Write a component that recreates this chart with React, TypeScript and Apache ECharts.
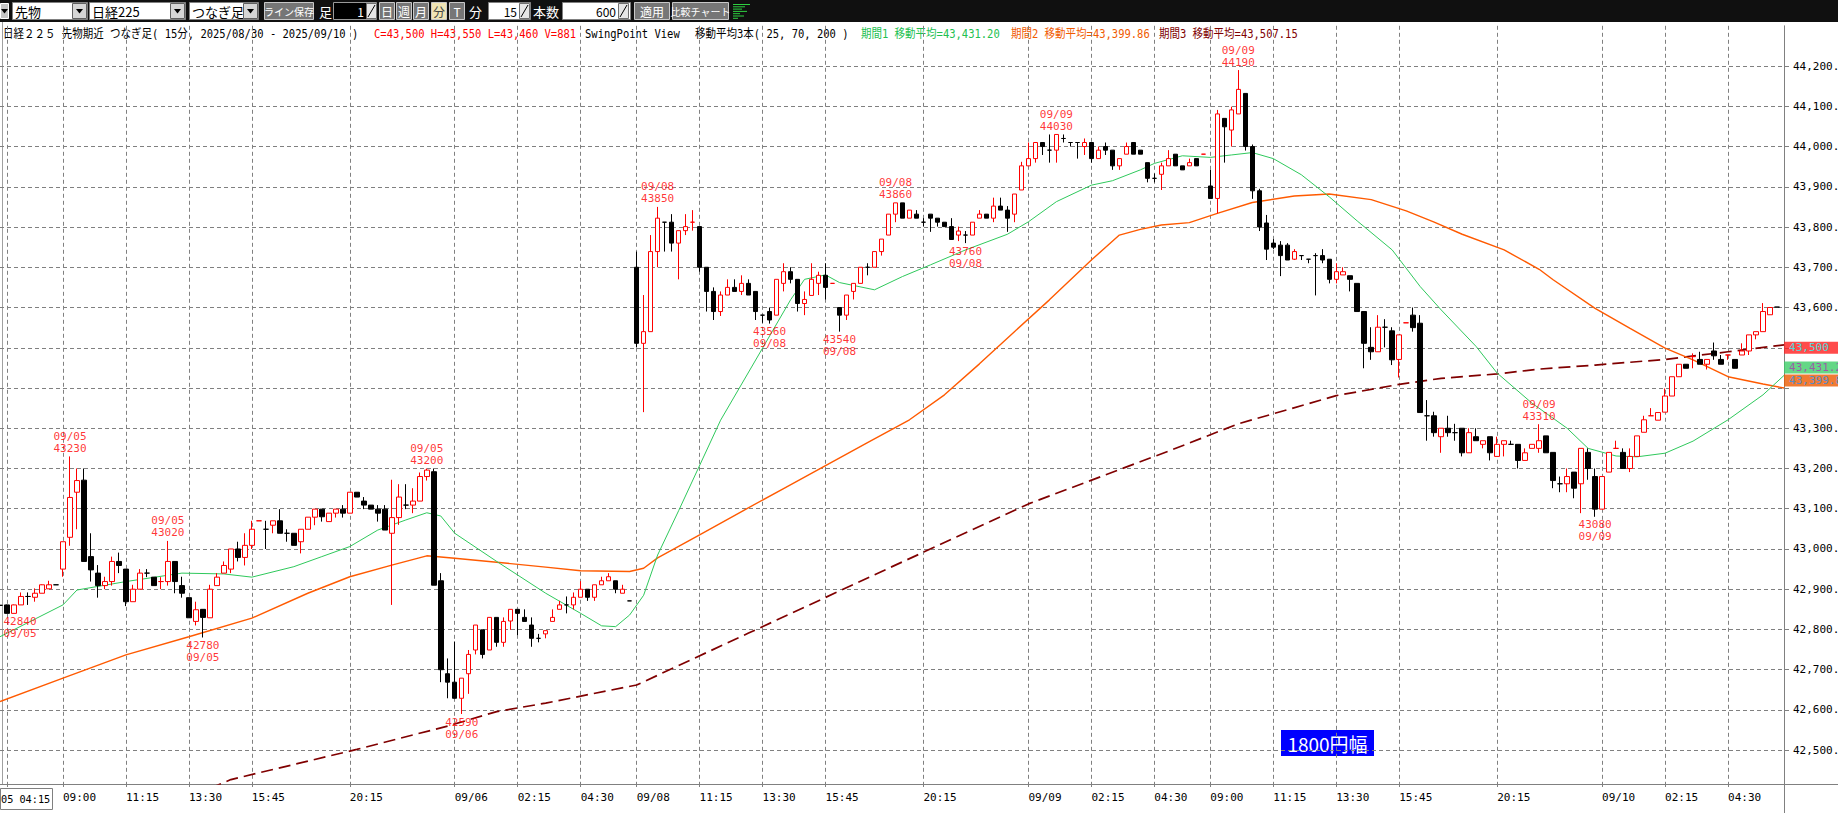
import { useEffect, useRef } from "react";
import * as echarts from "echarts";

const MONO = "'DejaVu Sans Mono', 'Noto Sans CJK JP', monospace";
const JP = "'Noto Sans CJK JP', sans-serif";
const RED = "#ff0000";
const BLACK = "#000000";
const GRID = "#808080";
const MA25_COLOR = "#2fc95c";
const MA70_COLOR = "#ff5a00";
const MA200_COLOR = "#800000";

// trading sessions: [date, first bar, last bar] in 15 minute steps
const sessions: [string, string, string][] = [
  ["09/05", "04:15", "06:00"],
  ["09/05", "08:45", "15:45"],
  ["09/05", "17:00", "23:45"],
  ["09/06", "00:00", "06:00"],
  ["09/08", "08:45", "15:45"],
  ["09/08", "17:00", "23:45"],
  ["09/09", "00:00", "06:00"],
  ["09/09", "08:45", "15:45"],
  ["09/09", "17:00", "23:45"],
  ["09/10", "00:00", "06:00"],
  ["09/10", "08:45", "09:00"],
];

// candles: [open, high, low, close, redDoji?]
const sep05Morning = [
  [42860, 42862, 42858, 42860], [42861, 42862, 42840, 42840], [42840, 42862, 42840, 42861], [42861, 42892, 42861, 42882],
  [42882, 42892, 42861, 42882], [42880, 42902, 42869, 42890], [42890, 42912, 42890, 42911], [42901, 42921, 42901, 42911],
];
const sep05Day = [
  [42911, 42911, 42911, 42911], [42950, 43018, 42931, 43018], [43029, 43230, 43008, 43128], [43141, 43200, 43049, 43170],
  [43171, 43200, 42969, 42969], [42981, 43039, 42919, 42948], [42940, 42960, 42879, 42909], [42909, 42931, 42900, 42919],
  [42919, 42981, 42909, 42969], [42969, 42991, 42940, 42959], [42950, 42950, 42858, 42869], [42869, 42911, 42869, 42900],
  [42900, 42950, 42900, 42940], [42940, 42950, 42930, 42940], [42930, 42930, 42909, 42909], [42919, 42930, 42900, 42919, 1],
  [42919, 43020, 42909, 42969], [42969, 42969, 42890, 42919], [42909, 42931, 42879, 42890], [42879, 42879, 42829, 42829],
  [42820, 42869, 42810, 42849], [42850, 42850, 42780, 42830], [42829, 42911, 42829, 42900], [42909, 42940, 42909, 42930],
  [42940, 42969, 42940, 42959], [42950, 43000, 42940, 43000], [43000, 43018, 42969, 42979], [42979, 43039, 42959, 43009],
  [43009, 43070, 43000, 43049],
];
const sep05Night = [
  [43070, 43070, 43070, 43070, 1], [43049, 43070, 43000, 43049], [43059, 43070, 43039, 43070], [43070, 43099, 43039, 43039],
  [43039, 43049, 43018, 43039], [43039, 43039, 43009, 43009], [43018, 43049, 42989, 43049], [43049, 43079, 43049, 43079],
  [43079, 43099, 43059, 43099], [43099, 43099, 43068, 43080], [43068, 43089, 43068, 43089], [43089, 43099, 43078, 43099],
  [43099, 43109, 43078, 43089], [43089, 43141, 43089, 43141], [43141, 43141, 43129, 43129], [43119, 43129, 43099, 43109],
  [43109, 43109, 43099, 43099], [43099, 43109, 43068, 43089], [43099, 43109, 43047, 43047], [43039, 43172, 42861, 43078],
  [43078, 43161, 43060, 43129], [43109, 43161, 43099, 43109], [43109, 43151, 43089, 43119], [43119, 43190, 43119, 43180],
  [43180, 43200, 43170, 43196], [43192, 43200, 42910, 42910], [42921, 42940, 42669, 42700], [42690, 42728, 42629, 42669],
  [42669, 42770, 42629, 42629], [42629, 42679, 42590, 42679], [42690, 42749, 42640, 42738], [42749, 42811, 42738, 42811],
  [42799, 42799, 42728, 42738], [42749, 42830, 42749, 42830], [42830, 42830, 42757, 42768], [42768, 42830, 42757, 42820],
  [42821, 42850, 42799, 42850], [42850, 42850, 42786, 42840], [42830, 42850, 42820, 42820], [42811, 42830, 42757, 42778],
  [42778, 42789, 42768, 42778], [42789, 42797, 42778, 42797], [42820, 42850, 42820, 42830], [42850, 42871, 42850, 42861],
  [42861, 42882, 42840, 42861], [42861, 42892, 42850, 42880], [42880, 42920, 42880, 42900], [42900, 42900, 42871, 42880],
  [42880, 42911, 42871, 42911], [42911, 42931, 42911, 42921], [42921, 42940, 42921, 42931], [42921, 42921, 42890, 42900],
  [42890, 42911, 42890, 42900],
];
const sep08Day = [
  [42871, 42871, 42871, 42871], [43700, 43739, 43501, 43511], [43511, 43631, 43340, 43540], [43540, 43780, 43540, 43739],
  [43739, 43850, 43700, 43822], [43812, 43812, 43739, 43812], [43812, 43832, 43739, 43760], [43760, 43791, 43670, 43791],
  [43791, 43832, 43780, 43801], [43812, 43842, 43791, 43812, 1], [43801, 43801, 43689, 43700], [43700, 43700, 43590, 43640],
  [43640, 43650, 43569, 43590], [43590, 43640, 43579, 43631], [43631, 43670, 43631, 43650], [43650, 43670, 43640, 43640],
  [43640, 43680, 43631, 43660], [43660, 43670, 43631, 43631], [43640, 43640, 43569, 43590], [43581, 43581, 43562, 43581],
  [43590, 43600, 43560, 43569], [43581, 43670, 43581, 43670], [43660, 43710, 43640, 43689], [43689, 43700, 43660, 43670],
  [43670, 43670, 43590, 43610], [43610, 43640, 43581, 43620], [43630, 43710, 43630, 43670], [43660, 43689, 43631, 43680],
  [43680, 43710, 43620, 43650],
];
const sep08Night = [
  [43660, 43660, 43660, 43660, 1], [43600, 43600, 43540, 43581], [43581, 43631, 43569, 43631], [43640, 43660, 43620, 43660],
  [43660, 43700, 43660, 43700], [43700, 43710, 43680, 43700], [43700, 43739, 43700, 43739], [43739, 43770, 43729, 43770],
  [43780, 43832, 43780, 43832], [43832, 43860, 43812, 43860], [43860, 43860, 43822, 43822], [43822, 43842, 43822, 43842],
  [43832, 43842, 43822, 43822], [43812, 43822, 43801, 43812], [43832, 43832, 43788, 43822], [43822, 43822, 43801, 43812],
  [43812, 43812, 43801, 43801], [43801, 43822, 43769, 43769], [43780, 43801, 43765, 43790], [43780, 43790, 43760, 43780],
  [43780, 43812, 43780, 43812], [43822, 43842, 43822, 43832], [43832, 43832, 43822, 43822], [43822, 43873, 43812, 43852],
  [43852, 43873, 43842, 43842], [43842, 43852, 43788, 43822], [43832, 43882, 43812, 43882], [43892, 43962, 43892, 43952],
  [43952, 44010, 43952, 43970], [43970, 44010, 43960, 44010], [44010, 44010, 43979, 44000], [43991, 44030, 43960, 43991],
  [43991, 44030, 43960, 44030], [44020, 44030, 44010, 44020], [44010, 44010, 44000, 44010], [44010, 44010, 43970, 44010],
  [44000, 44020, 43979, 44010], [44010, 44010, 43960, 43970], [43970, 44000, 43970, 43991], [44000, 44010, 43979, 43991],
  [43991, 43991, 43942, 43952], [43952, 43970, 43942, 43970], [43981, 44010, 43981, 44000], [44010, 44010, 43981, 43981],
  [43991, 43991, 43981, 43981], [43960, 43960, 43911, 43921], [43921, 43933, 43911, 43921], [43931, 43960, 43892, 43952],
  [43952, 43991, 43952, 43970], [43981, 43981, 43952, 43952], [43952, 43952, 43942, 43942], [43952, 43970, 43952, 43960],
  [43970, 43970, 43952, 43952],
];
const sep09Day = [
  [43981, 43981, 43981, 43981, 1], [43902, 43942, 43871, 43871], [43871, 44091, 43834, 44081], [44070, 44070, 43960, 44049],
  [44041, 44099, 44000, 44091], [44081, 44190, 44081, 44142], [44132, 44132, 43990, 44000], [44000, 44005, 43870, 43890],
  [43890, 43895, 43790, 43800], [43810, 43830, 43718, 43745], [43760, 43770, 43745, 43750], [43755, 43765, 43678, 43729],
  [43755, 43760, 43718, 43718], [43720, 43745, 43718, 43739], [43729, 43729, 43718, 43729], [43720, 43720, 43710, 43720],
  [43729, 43735, 43630, 43729], [43729, 43745, 43710, 43718], [43720, 43720, 43660, 43670], [43670, 43710, 43660, 43689],
  [43681, 43700, 43681, 43689], [43679, 43679, 43640, 43670], [43660, 43660, 43590, 43590], [43590, 43590, 43449, 43511],
  [43501, 43551, 43470, 43490], [43490, 43581, 43490, 43551], [43551, 43571, 43501, 43551], [43542, 43551, 43457, 43470],
  [43471, 43532, 43426, 43532],
];
const sep09Night = [
  [43562, 43562, 43562, 43562, 1], [43581, 43600, 43540, 43550], [43561, 43581, 43339, 43339], [43331, 43370, 43269, 43331],
  [43331, 43341, 43279, 43289], [43279, 43300, 43239, 43300], [43300, 43331, 43279, 43289], [43289, 43311, 43269, 43289],
  [43300, 43300, 43230, 43239], [43239, 43300, 43239, 43289], [43279, 43300, 43269, 43269], [43260, 43269, 43250, 43269],
  [43279, 43279, 43220, 43239], [43230, 43279, 43230, 43260], [43260, 43269, 43230, 43269], [43260, 43269, 43260, 43260],
  [43260, 43260, 43200, 43220], [43220, 43250, 43220, 43239], [43250, 43260, 43250, 43260], [43250, 43310, 43239, 43269],
  [43281, 43281, 43239, 43239], [43240, 43240, 43151, 43170], [43162, 43180, 43141, 43162], [43162, 43200, 43141, 43180],
  [43191, 43191, 43126, 43151], [43162, 43250, 43089, 43250], [43240, 43250, 43172, 43200], [43180, 43200, 43080, 43099],
  [43099, 43180, 43099, 43180], [43191, 43240, 43191, 43240], [43250, 43269, 43250, 43250, 1], [43240, 43250, 43200, 43200],
  [43200, 43250, 43191, 43230], [43230, 43281, 43230, 43281], [43290, 43331, 43290, 43321], [43331, 43350, 43331, 43331, 1],
  [43320, 43339, 43320, 43339], [43340, 43399, 43340, 43380], [43380, 43428, 43380, 43428], [43428, 43459, 43428, 43459],
  [43459, 43459, 43449, 43449], [43478, 43486, 43449, 43478, 1], [43471, 43490, 43459, 43459], [43459, 43471, 43446, 43471],
  [43492, 43513, 43470, 43480], [43471, 43482, 43459, 43459], [43482, 43482, 43470, 43482, 1], [43471, 43471, 43449, 43449],
  [43482, 43511, 43482, 43492], [43492, 43532, 43482, 43532], [43532, 43540, 43521, 43540], [43540, 43611, 43540, 43590],
  [43582, 43600, 43582, 43600],
];
const sep10Day = [[43601, 43601, 43601, 43601]];

// moving averages: [bar number, value]
const ma25Points = [
  [0, 42782], [9, 42861], [11, 42898], [18, 42919], [26, 42940], [32, 42938], [36, 42930], [42, 42956], [46, 42981],
  [50, 43006], [54, 43047], [58, 43072], [61, 43090], [63, 43082], [65, 43039], [71, 42969], [78, 42890], [83, 42840],
  [86, 42809], [88, 42807], [90, 42836], [92, 42885], [94, 42985], [97, 43095], [103, 43320], [109, 43499], [113, 43619],
  [115, 43670], [118, 43681], [120, 43662], [125, 43644], [129, 43677], [133, 43706], [138, 43743], [144, 43782],
  [147, 43813], [151, 43863], [156, 43904], [159, 43915], [163, 43942], [165, 43958], [169, 43977], [173, 43973],
  [176, 43979], [179, 43985], [182, 43970], [186, 43930], [190, 43875], [194, 43815], [199, 43743], [203, 43652],
  [206, 43594], [211, 43503], [214, 43437], [219, 43362], [224, 43300], [227, 43250], [231, 43231], [234, 43229],
  [238, 43238], [242, 43268], [247, 43321], [252, 43383], [255, 43431.2],
];
const ma70Points = [
  [0, 42621], [9, 42679], [18, 42737], [27, 42782], [36, 42828], [44, 42890], [50, 42931], [56, 42960], [61, 42983],
  [65, 42977], [71, 42967], [78, 42955], [83, 42946], [90, 42944], [92, 42952], [94, 42978], [100, 43035], [106, 43093],
  [112, 43150], [118, 43207], [124, 43264], [130, 43321], [135, 43383], [140, 43460], [145, 43540], [150, 43619],
  [156, 43718], [160, 43780], [163, 43794], [166, 43805], [170, 43811], [174, 43834], [179, 43861], [185, 43877],
  [190, 43882], [196, 43868], [201, 43840], [205, 43812], [209, 43782], [215, 43743], [220, 43695], [222, 43669],
  [228, 43598], [233, 43548], [238, 43499], [242, 43470], [247, 43428], [252, 43410], [255, 43399.86],
];
const ma200Points = [
  [30, 42405], [33, 42427], [51, 42502], [64, 42560], [71, 42596], [78, 42617], [91, 42662], [107, 42791], [127, 42952],
  [147, 43112], [167, 43243], [177, 43311], [183, 43341], [191, 43381], [200, 43409], [206, 43424], [214, 43435],
  [220, 43447], [228, 43457], [238, 43471], [247, 43490], [255, 43507.15],
];

// swing points: [bar number, price, date]
const swingHighs: [number, number, string][] = [
  [10, 43230, "09/05"], [24, 43020, "09/05"], [61, 43200, "09/05"], [94, 43850, "09/08"],
  [128, 43860, "09/08"], [151, 44030, "09/09"], [177, 44190, "09/09"], [220, 43310, "09/09"],
];
const swingLows: [number, number, string][] = [
  [2, 42840, "09/05"], [29, 42780, "09/05"], [66, 42590, "09/06"], [110, 43560, "09/08"],
  [120, 43540, "09/08"], [138, 43760, "09/08"], [228, 43080, "09/09"],
];

// x-axis tick labels (category -> text), empty text = grid line only
const xTickLabels: [string, string][] = [
  ["09/05 04:30", ""], ["09/05 09:00", "09:00"], ["09/05 11:15", "11:15"], ["09/05 13:30", "13:30"], ["09/05 15:45", "15:45"],
  ["09/05 20:15", "20:15"], ["09/06 00:00", "09/06"], ["09/06 02:15", "02:15"], ["09/06 04:30", "04:30"],
  ["09/08 09:00", "09/08"], ["09/08 11:15", "11:15"], ["09/08 13:30", "13:30"], ["09/08 15:45", "15:45"],
  ["09/08 20:15", "20:15"], ["09/09 00:00", "09/09"], ["09/09 02:15", "02:15"], ["09/09 04:30", "04:30"],
  ["09/09 09:00", "09:00"], ["09/09 11:15", "11:15"], ["09/09 13:30", "13:30"], ["09/09 15:45", "15:45"],
  ["09/09 20:15", "20:15"], ["09/10 00:00", "09/10"], ["09/10 02:15", "02:15"], ["09/10 04:30", "04:30"],
];
const firstBarLabel = "05 04:15";

const lastClose = 43500;
const lastHigh = 43550;
const lastLow = 43460;
const lastVolume = 881;
const ma25Last = 43431.2;
const ma70Last = 43399.86;
const ma200Last = 43507.15;
const yMin = 42416;
const yMax = 44300;

function buildCategories(): string[] {
  const out: string[] = [];
  const toMin = (t: string) => Number(t.slice(0, 2)) * 60 + Number(t.slice(3));
  for (const [d, s, e] of sessions) {
    for (let m = toMin(s); m <= toMin(e); m += 15) {
      const hh = String(Math.floor(m / 60)).padStart(2, "0");
      const mm = String(m % 60).padStart(2, "0");
      out.push(`${d} ${hh}:${mm}`);
    }
  }
  return out;
}

const fmtN = (v: number, d: number) =>
  v.toLocaleString("en-US", { minimumFractionDigits: d, maximumFractionDigits: d });

function toolbar(): any[] {
  const els: any[] = [];
  const box = (x: number, y: number, w: number, h: number, fill: string, stroke?: string) => ({
    type: "rect", shape: { x, y, width: w, height: h }, style: { fill, stroke: stroke || null, lineWidth: 1 },
  });
  const tri = (cx: number, cy: number) => ({
    type: "polygon", shape: { points: [[cx - 3.5, cy - 2], [cx + 3.5, cy - 2], [cx, cy + 2.5]] }, style: { fill: "#000" },
  });
  const t = (x: number, y: number, text: string, fill: string, size = 12, align = "left") => ({
    type: "text", x, y, style: { text, fill, font: `${size}px ${JP}`, align, verticalAlign: "middle" },
  });
  const spinner = (x: number) => {
    els.push(box(x + 0.5, 3.5, 10, 15, "#e6e6e6", "#707070"));
    els.push({ type: "line", shape: { x1: x + 2, y1: 17, x2: x + 9, y2: 5 }, style: { stroke: "#000", lineWidth: 1 } });
  };
  els.push(box(0, 0, 1838, 22, "#101010"));
  els.push(box(0.5, 3.5, 8, 15, "#c4c4c4", "#ffffff"));
  els.push(tri(4.5, 11));
  const combo = (x: number, w: number, label: string) => {
    els.push(box(x + 0.5, 2.5, w, 17, "#ffffff", "#808080"));
    els.push(t(x + 3, 11.5, label, "#000", 13));
    els.push(box(x + w - 14.5, 3.5, 14, 15, "#d6d6d6", "#606060"));
    els.push(tri(x + w - 7.5, 11));
  };
  combo(12, 75, "先物");
  combo(89, 96, "日経225");
  combo(189, 69, "つなぎ足");
  const button = (x: number, w: number, label: string, size = 12, fill = "#767676", color = "#ffffff") => {
    els.push(box(x + 0.5, 2.5, w, 17, fill, "#c8c8c8"));
    els.push(t(x + w / 2 + 0.5, 11.5, label, color, size, "center"));
  };
  button(264, 49, "ライン保存", 10);
  els.push(t(319, 11.5, "足", "#fff", 13));
  els.push(box(333.5, 2.5, 43, 17, "#000", "#9a9a9a"));
  els.push(t(364, 11.5, "1", "#fff", 12, "right"));
  spinner(366);
  button(379, 15, "日");
  button(396, 15, "週");
  button(413, 15, "月");
  button(431, 15, "分", 12, "#f0e4b4", "#444");
  button(449, 15, "T");
  els.push(t(469, 11.5, "分", "#fff", 13));
  els.push(box(488.5, 2.5, 42, 17, "#fff", "#808080"));
  els.push(t(517, 11.5, "15", "#000", 12, "right"));
  spinner(519);
  els.push(t(533, 11.5, "本数", "#fff", 13));
  els.push(box(562.5, 2.5, 68, 17, "#fff", "#808080"));
  els.push(t(616, 11.5, "600", "#000", 12, "right"));
  spinner(618);
  button(634, 35, "適用");
  button(672, 56, "比較チャート", 10);
  const bars = [17, 12, 9, 14, 7, 11, 5];
  bars.forEach((w, i) => {
    els.push({ type: "line", shape: { x1: 733, y1: 4.5 + i * 2.3, x2: 733 + w, y2: 4.5 + i * 2.3 }, style: { stroke: "#2ed040", lineWidth: 1 } });
  });
  return els;
}

function header(): any[] {
  const seg = (x: number, text: string, fill: string) => ({
    type: "text", x, y: 34, scaleX: 0.875,
    style: { text, fill, font: `12px ${MONO}`, align: "left", verticalAlign: "middle" },
  });
  return [
    seg(3, "日経２２５ 先物期近 つなぎ足( 15分, 2025/08/30 - 2025/09/10 )", "#000"),
    seg(374, `C=${fmtN(lastClose, 0)} H=${fmtN(lastHigh, 0)} L=${fmtN(lastLow, 0)} V=${lastVolume}`, "#ff0000"),
    seg(585, "SwingPoint View", "#000"),
    seg(695, "移動平均3本( 25, 70, 200 )", "#000"),
    seg(861, `期間1 移動平均=${fmtN(ma25Last, 2)}`, "#22c050"),
    seg(1011, `期間2 移動平均=${fmtN(ma70Last, 2)}`, "#f05a00"),
    seg(1159, `期間3 移動平均=${fmtN(ma200Last, 2)}`, "#800000"),
  ];
}

export default function App() {
  const ref = useRef<HTMLDivElement>(null);
  useEffect(() => {
    if (!ref.current) return;
    const chart = echarts.init(ref.current, null, { renderer: "svg" });
    const categories = buildCategories();
    const tickMap = new Map(xTickLabels);
    const bars = [...sep05Morning, ...sep05Day, ...sep05Night, ...sep08Day, ...sep08Night, ...sep09Day, ...sep09Night, ...sep10Day];
    const candleData = bars.map((b) => {
      const [o, h, l, c, red] = b as number[];
      const value = [o, c, l, h];
      if (o === c) {
        const col = red ? RED : BLACK;
        return { value, itemStyle: { color: col, color0: col, borderColor: col, borderColor0: col } };
      }
      return value;
    });
    // value tags on the right axis hide the tick labels they cover
    const covered = (v: number) => Math.abs(v - lastClose) < 20 || (v > ma70Last - 25 && v < ma25Last + 25);
    const tagLabel = (text: string, bg: string, color: string, dy: number) => ({
      show: true, position: "right", distance: 0, offset: [0, dy], formatter: text,
      backgroundColor: bg, color, padding: [1, 30, 0, 5], fontFamily: MONO, fontSize: 11, lineHeight: 11,
    });
    const invisible = { color: "rgba(0,0,0,0)" };
    chart.setOption({
      animation: false,
      backgroundColor: "#ffffff",
      grid: { left: 0, right: 54, top: 25.8, bottom: 29, containLabel: false, outerBoundsMode: "none" },
      xAxis: {
        type: "category", data: categories, boundaryGap: false,
        axisLine: { lineStyle: { color: GRID } },
        axisTick: { interval: (_i: number, v: string) => tickMap.has(v), length: 3, lineStyle: { color: GRID } },
        axisLabel: {
          interval: (_i: number, v: string) => !!tickMap.get(v),
          formatter: (v: string) => tickMap.get(v) || "",
          margin: 8, color: "#000", fontFamily: MONO, fontSize: 11, align: "left",
        },
        splitLine: { show: true, interval: (_i: number, v: string) => tickMap.has(v), lineStyle: { color: GRID, type: [4, 3] } },
      },
      yAxis: {
        type: "value", position: "right", min: yMin, max: yMax, splitNumber: 19, minInterval: 100, maxInterval: 100,
        axisLine: { show: true, lineStyle: { color: GRID } },
        axisTick: { show: true, length: 5, lineStyle: { color: GRID } },
        axisLabel: {
          margin: 9, color: "#000", fontFamily: MONO, fontSize: 11, showMinLabel: false, showMaxLabel: false,
          formatter: (v: number) => (covered(v) ? "" : fmtN(v, 1)),
        },
        splitLine: { show: true, showMinLine: false, showMaxLine: false, lineStyle: { color: GRID, type: [4, 3] } },
      },
      series: [
        { type: "line", data: ma200Points, symbol: "none", showSymbol: false, silent: true, z: 1,
          lineStyle: { color: MA200_COLOR, width: 1.7, type: [12, 6] } },
        { type: "line", data: ma70Points, symbol: "none", showSymbol: false, silent: true, z: 2,
          lineStyle: { color: MA70_COLOR, width: 1.4 } },
        { type: "line", data: ma25Points, symbol: "none", showSymbol: false, silent: true, z: 2,
          lineStyle: { color: MA25_COLOR, width: 1 } },
        { type: "candlestick", data: candleData, barWidth: 5, z: 3, silent: true,
          itemStyle: { color: "#ffffff", color0: BLACK, borderColor: RED, borderColor0: BLACK, borderWidth: 1 } },
        { type: "scatter", symbolSize: 0.1, itemStyle: invisible, z: 5, silent: true,
          data: swingHighs.map(([i, v, d]) => ({ value: [i, v], label: { formatter: `${d}\n${v}` } })),
          label: { show: true, position: "top", distance: 2, color: RED, fontFamily: MONO, fontSize: 11, lineHeight: 12 } },
        { type: "scatter", symbolSize: 0.1, itemStyle: invisible, z: 5, silent: true,
          data: swingLows.map(([i, v, d]) => ({
            value: [i, v],
            label: { formatter: `${v}\n${d}`, offset: [Math.max(0, 20 - i * 7), 0] },
          })),
          label: { show: true, position: "bottom", distance: 2, color: RED, fontFamily: MONO, fontSize: 11, lineHeight: 12 } },
        { type: "scatter", symbolSize: 0.1, itemStyle: invisible, z: 6, silent: true, clip: false,
          data: [[255, lastClose]], label: tagLabel(fmtN(lastClose, 0), "#ff1e1e", "#20ffff", 0) },
        { type: "scatter", symbolSize: 0.1, itemStyle: invisible, z: 6, silent: true, clip: false,
          data: [[255, ma25Last]], label: tagLabel(fmtN(ma25Last, 2), "#3dcd68", "#a83cb0", -8) },
        { type: "scatter", symbolSize: 0.1, itemStyle: invisible, z: 6, silent: true, clip: false,
          data: [[255, ma70Last]], label: tagLabel(fmtN(ma70Last, 2), "#ec5a00", "#2f8fe8", -7.5) },
      ],
      graphic: [
        ...toolbar(),
        ...header(),
        { type: "line", shape: { x1: 2.5, y1: 22, x2: 2.5, y2: 784 }, style: { stroke: "#a0a0a0", lineWidth: 1 } },
        { type: "line", shape: { x1: 1784.5, y1: 784, x2: 1784.5, y2: 813 }, style: { stroke: GRID, lineWidth: 1 } },
        { type: "line", shape: { x1: 1784, y1: 784.5, x2: 1838, y2: 784.5 }, style: { stroke: GRID, lineWidth: 1 } },
        { type: "rect", shape: { x: 0.5, y: 788.5, width: 52, height: 21 }, style: { fill: "#fff", stroke: GRID, lineWidth: 1 } },
        { type: "text", x: 1, y: 799, scaleX: 0.93, style: { text: firstBarLabel, fill: "#000", font: `11px ${MONO}`, align: "left", verticalAlign: "middle" } },
        { type: "rect", shape: { x: 1281, y: 730, width: 93, height: 26 }, style: { fill: "#0000ff" } },
        { type: "text", x: 1327.5, y: 743.5, style: { text: "1800円幅", fill: "#ffffff", font: `19px ${JP}`, align: "center", verticalAlign: "middle" } },
      ],
    });
    return () => chart.dispose();
  }, []);
  return (
    <div
      ref={ref}
      style={{ position: "fixed", left: 0, top: 0, width: 1838, height: 813, background: "#fff", overflow: "hidden" }}
    />
  );
}
